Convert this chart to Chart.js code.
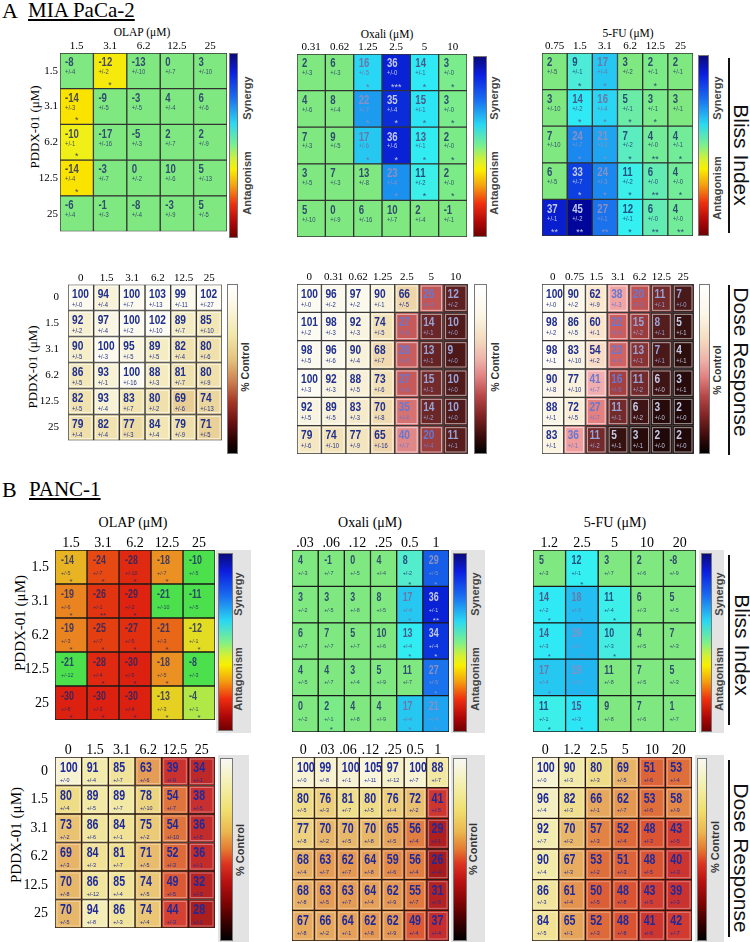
<!DOCTYPE html>
<html><head><meta charset="utf-8">
<script src="https://cdn.jsdelivr.net/npm/chart.js@4.4.1/dist/chart.umd.min.js"></script>
<style>
html,body{margin:0;padding:0;background:#fff;}
body{width:750px;height:942px;position:relative;overflow:hidden;}
.t{position:absolute;white-space:nowrap;line-height:1;color:#000;}
.serif{font-family:"Liberation Serif","Times New Roman",serif;}
.sans{font-family:"Liberation Sans",Arial,sans-serif;}
.c{transform:translate(-50%,-50%);}
.rl{transform:translate(-50%,-50%) rotate(-90deg);}
.rr{transform:translate(-50%,-50%) rotate(90deg);}
.cb{position:absolute;border:1px solid #777;box-sizing:border-box;}
.gp{position:absolute;background:#e3e3e3;}
.vl{position:absolute;width:2px;background:#111;}
canvas{position:absolute;}
</style></head><body>
<script>
// ---------------- DATA ----------------
const pddxBliss = ['1.5','3.1','6.2','12.5','25'];
const pddxDose  = ['0','1.5','3.1','6.2','12.5','25'];

// A  MIA PaCa-2 : Bliss index
const olapBlissA = ['1.5','3.1','6.2','12.5','25'];
const blissOlapA = [[-8,-12,-13,0,3],[-14,-9,-3,4,6],[-10,-17,-5,2,2],[-14,-3,0,10,5],[-6,-1,-8,-3,5]];
const blissOlapAErr = [[4,2,10,7,10],[3,5,5,4,6],[1,16,3,7,9],[4,7,2,6,13],[4,3,4,9,5]];
const blissOlapASig = [['','*','','',''],['*','','','',''],['*','','','',''],['*','','','',''],['','','','','']];

const oxaliBlissA = ['0.31','0.62','1.25','2.5','5','10'];
const blissOxaliA = [[2,6,16,36,14,3],[4,8,22,35,15,3],[7,9,17,36,13,2],[3,7,13,23,11,2],[5,0,6,10,2,-1]];
const blissOxaliAErr = [[3,3,5,0,1,0],[6,4,7,4,1,0],[3,5,6,6,1,0],[5,3,8,4,2,0],[10,9,16,7,4,1]];
const blissOxaliASig = [['','','*','***','*','*'],['','','*','*','*','*'],['','','*','*','*','*'],['','','','*','*','*'],['','','','','','']];

const fuBlissA = ['0.75','1.5','3.1','6.2','12.5','25'];
const bliss5fuA = [[2,9,17,3,2,2],[3,14,16,5,3,3],[7,24,21,7,4,4],[6,33,24,11,6,4],[37,45,27,12,6,4]];
const bliss5fuAErr = [[5,1,4,2,1,1],[10,2,4,1,1,1],[10,7,3,2,0,1],[5,7,3,2,0,0],[1,2,1,1,0,0]];
const bliss5fuASig = [['','*','*','','*',''],['','*','*','*','*',''],['','*','*','*','**','*'],['','*','*','*','**','*'],['**','**','**','*','**','**']];

// A : Dose response (% control)
const olapDoseA = ['0','1.5','3.1','6.2','12.5','25'];
const doseOlapA = [[100,94,100,103,99,102],[92,97,100,102,89,85],[90,100,95,89,82,80],[86,93,100,88,81,80],[82,93,83,80,69,74],[79,82,77,84,79,71]];
const doseOlapAErr = [[0,4,7,13,11,27],[2,4,2,10,7,10],[5,3,5,5,4,6],[5,1,16,3,7,9],[5,4,7,2,6,13],[4,4,3,4,9,5]];

const oxaliDoseA = ['0','0.31','0.62','1.25','2.5','5','10'];
const doseOxaliA = [[100,96,97,90,66,26,12],[101,98,92,74,27,14,10],[98,96,90,68,28,13,9],[100,92,88,73,27,15,10],[92,89,83,70,35,14,10],[79,74,77,65,40,20,11]];
const doseOxaliAErr = [[0,2,2,1,5,4,2],[2,3,3,5,6,1,0],[5,6,4,7,6,1,0],[3,3,5,6,6,1,0],[5,5,3,8,4,2,0],[6,10,9,16,7,4,1]];

const fuDoseA = ['0','0.75','1.5','3.1','6.2','12.5','25'];
const dose5fuA = [[100,90,62,38,20,11,7],[98,86,60,22,15,8,5],[98,83,54,23,13,7,4],[90,77,41,16,11,6,3],[88,72,27,11,6,3,2],[83,36,11,5,3,2,2]];
const dose5fuAErr = [[0,2,9,3,3,1,0],[2,5,1,4,2,1,1],[1,10,2,4,1,1,1],[8,10,7,5,2,0,1],[1,5,7,1,2,0,0],[1,1,2,1,1,0,0]];

// B  PANC-1 : Bliss index
const olapBlissB = ['1.5','3.1','6.2','12.5','25'];
const blissOlapB = [[-14,-24,-28,-18,-10],[-19,-26,-29,-21,-11],[-19,-25,-27,-21,-12],[-21,-28,-30,-18,-8],[-30,-30,-30,-13,-4]];
const blissOlapBErr = [[5,7,10,7,5],[6,1,2,10,5],[3,7,5,3,1],[12,4,5,5,3],[8,3,4,3,1]];
const blissOlapBSig = [['*','*','*','*',''],['*','**','*','',''],['*','*','*','*','*'],['','*','*','*',''],['*','*','*','*','*']];

const oxaliBlissB = ['.03','.06','.12','.25','0.5','1'];
const blissOxaliB = [[4,-1,0,4,8,29],[3,3,3,8,17,36],[6,7,5,10,13,34],[4,4,3,5,11,27],[0,2,4,4,17,21]];
const blissOxaliBErr = [[3,7,5,4,2,5],[2,5,8,5,4,1],[7,7,7,6,4,4],[5,7,4,9,7,5],[2,1,8,9,4,4]];
const blissOxaliBSig = [['','','','','*','*'],['','','','','*','**'],['','','','','*','*'],['','','','','','*'],['','*','','','*','*']];

const fuBlissB = ['1.2','2.5','5','10','20'];
const bliss5fuB = [[5,12,3,2,-8],[14,18,11,6,5],[14,19,10,4,7],[17,19,11,7,5],[11,15,9,7,1]];
const bliss5fuBErr = [[3,1,7,6,9],[2,3,4,3,5],[3,2,3,5,3],[4,5,8,5,3],[1,3,8,6,7]];
const bliss5fuBSig = [['','*','','',''],['*','*','*','',''],['*','*','*','',''],['*','*','','',''],['*','*','','','']];

// B : Dose response (% control)
const olapDoseB = ['0','1.5','3.1','6.2','12.5','25'];
const doseOlapB = [[100,91,85,63,39,34],[80,89,89,78,54,38],[73,86,84,75,54,36],[69,84,81,71,52,36],[70,86,85,74,49,32],[70,94,86,74,44,28]];
const doseOlapBErr = [[0,4,7,6,9,1],[4,5,7,10,7,5],[2,6,1,2,10,5],[3,3,7,5,3,1],[8,12,4,5,5,3],[5,8,3,4,3,1]];

const oxaliDoseB = ['0','.03','.06','.12','.25','0.5','1'];
const doseOxaliB = [[100,99,100,105,97,100,88],[80,76,81,80,76,72,41],[77,70,70,70,65,56,29],[68,63,62,64,59,56,26],[68,63,63,64,62,55,31],[67,66,64,62,62,49,37]];
const doseOxaliBErr = [[0,8,1,11,12,7,7],[5,3,7,5,4,2,5],[8,2,5,8,5,4,1],[4,7,7,8,6,4,4],[8,5,7,4,9,7,5],[8,2,1,8,9,4,4]];

const fuDoseB = ['0','1.2','2.5','5','10','20'];
const dose5fuB = [[100,90,80,69,51,53],[96,82,66,62,53,58],[92,70,57,52,48,43],[90,67,53,51,48,40],[86,61,50,48,43,39],[84,65,52,48,41,42]];
const dose5fuBErr = [[0,3,3,5,6,4],[4,3,1,7,6,9],[7,2,3,4,3,5],[4,3,2,3,5,3],[3,4,5,8,5,3],[5,1,3,8,6,7]];

// ---------------- COLOUR MAPS ----------------
const posStops = [[0,'#7ee87e'],[3,'#7aec8c'],[6,'#62ecb4'],[9,'#4cecd8'],[12,'#34f0f0'],[15,'#2ce6f6'],[17,'#26c8f2'],[21,'#1ea4f0'],[24,'#1a88ee'],[27,'#1a72ec'],[30,'#1454e6'],[33,'#0c40e0'],[36,'#0a22d6'],[40,'#0614b8'],[45,'#00069a']];
const blissStopsA = [[-32,'#d81e10'],[-28,'#e02a10'],[-24,'#e84a10'],[-19,'#ec8420'],[-16,'#f4c010'],[-14,'#fbe300'],[-10,'#f0f018'],[-4,'#b4ec48']].concat(posStops);
const blissStopsB = [[-32,'#d81c10'],[-29,'#de2410'],[-26,'#e23410'],[-24,'#e64a12'],[-21,'#e86818'],[-19,'#ea8420'],[-18,'#eb9022'],[-14,'#e8b424'],[-13,'#e6d022'],[-12,'#e2dc22'],[-8,'#c8e838'],[-4,'#b0e848']].concat(posStops);
const doseStopsA1 = [[65,'#e4c68a'],[70,'#e9cf96'],[75,'#ecd8a0'],[80,'#f0e1ac'],[85,'#f2e7b6'],[90,'#f5eec8'],[95,'#f9f4dc'],[100,'#fcfaee'],[105,'#fefdf6']];
const doseStopsA2 = [[9,'#4c1818'],[12,'#5e2020'],[15,'#722a2a'],[20,'#9c3e3e'],[27,'#c65a5a'],[35,'#d67272'],[40,'#e08888'],[50,'#e8b098'],[60,'#eccca8'],[66,'#efd6aa'],[74,'#f2e2b8'],[80,'#f4e8c4'],[88,'#f7f0d6'],[95,'#faf7e8'],[100,'#fcfbf2']];
const doseStopsA3 = [[2,'#200808'],[4,'#2c0e0c'],[6,'#3e1414'],[8,'#541e1e'],[11,'#722a2a'],[13,'#883232'],[16,'#a44040'],[20,'#c05252'],[23,'#d06262'],[27,'#e48080'],[37,'#f0a0a0'],[41,'#f2aeae'],[54,'#f8dcc4'],[62,'#fbe8cc'],[75,'#f9f0d8'],[88,'#faf5e4'],[100,'#fdfcf6']];
const doseStopsB = [[25,'#a41a1a'],[30,'#b02020'],[35,'#c02a2a'],[40,'#cc3430'],[45,'#d64432'],[50,'#dc5e36'],[55,'#e07a3e'],[60,'#e4904c'],[65,'#e6a45a'],[70,'#e8b86a'],[75,'#ebca78'],[80,'#efdc86'],[85,'#f1e49a'],[90,'#f2eaa8'],[95,'#f4eebc'],[100,'#f6f2d2'],[106,'#f8f5dc']];

function hexRgb(h){return [parseInt(h.slice(1,3),16),parseInt(h.slice(3,5),16),parseInt(h.slice(5,7),16)];}
function ramp(stops,v){
  if(v<=stops[0][0]) return hexRgb(stops[0][1]);
  for(let k=1;k<stops.length;k++){
    if(v<=stops[k][0]){
      const t=(v-stops[k-1][0])/(stops[k][0]-stops[k-1][0]);
      const a=hexRgb(stops[k-1][1]), b=hexRgb(stops[k][1]);
      return a.map((x,q)=>Math.round(x+(b[q]-x)*t));
    }
  }
  return hexRgb(stops[stops.length-1][1]);
}
const rgbStr=a=>`rgb(${a[0]},${a[1]},${a[2]})`;

function blissText(v,sig){
  if(sig&&v>=30) return '#c4c9ea';
  if(sig&&v>=19) return '#8890c4';
  if(sig&&v>=16) return '#6a78a8';
  if(sig&&v>=13) return '#4a5a88';
  return 'rgba(28,38,105,0.8)';
}
function doseAText(rgb){
  const l=(0.299*rgb[0]+0.587*rgb[1]+0.114*rgb[2])/255;
  if(l>0.78) return '#1f2f8f';
  if(l>0.35) return '#6878d0';
  if(l>0.15) return '#98a4d8';
  return '#c4cae8';
}

// ---------------- PAGE HELPERS ----------------
function txt(s,x,y,cls,style){const d=document.createElement('div');d.className='t '+cls;d.textContent=s;d.style.left=x+'px';d.style.top=y+'px';Object.assign(d.style,style||{});document.body.appendChild(d);return d;}
function box(cls,x,y,w,h,bg){const d=document.createElement('div');d.className=cls;Object.assign(d.style,{left:x+'px',top:y+'px',width:w+'px',height:h+'px',background:bg});document.body.appendChild(d);return d;}

const STY = {
  blissA:{tick:11,T:14,L:30,rowPad:2,tickPad:1,num:12,numSc:0.8,err:6.5,padX:5,numDY:10,errDY:19.5,starDY:4,star:9},
  doseA:{tick:11,T:14,L:42,rowPad:9,tickPad:1,num:13,numSc:0.78,err:6.5,padX:4,numDY:10,errDY:21,inner:0.6},
  blissB:{tick:14,T:16,L:40,rowPad:6,tickPad:0,num:12,numSc:0.74,err:6,padX:6,numDY:11,errDY:23.5,starDY:3,star:8},
  doseB:{tick:14,T:16,L:40,rowPad:7,tickPad:0,num:14,numSc:0.76,err:6,padX:5,numDY:11,errDY:23,inner:0.35}
};

function heat(p){
  const s=STY[p.style];
  const [gx,gy,gw,gh]=p.box;
  const L=p.rowsShown?s.L:0, T=s.T;
  const cv=document.createElement('canvas');
  const W=gw+L+1, H=gh+T+1;
  cv.width=W;cv.height=H;cv.style.width=W+'px';cv.style.height=H+'px';
  cv.style.left=(gx-L)+'px';cv.style.top=(gy-T)+'px';
  document.body.appendChild(cv);
  const isBliss=p.style.startsWith('bliss');
  const cellRgb=(i,j)=>{const v=p.vals[i][j];if(isBliss&&!p.sig[i][j])return hexRgb(p.ns);return ramp(p.stops,v);};
  const datasets=p.cols.map((c,j)=>({
    label:c,
    data:p.rows.map(()=>1),
    backgroundColor:p.rows.map((r,i)=>rgbStr(cellRgb(i,j))),
    borderColor:p.border||'#2a2a2a',borderWidth:1,borderSkipped:false,
    barPercentage:1,categoryPercentage:1
  }));
  const textPlugin={id:'cellText',afterDatasetsDraw(chart){
    const ctx=chart.ctx;
    p.cols.forEach((c,j)=>{
      chart.getDatasetMeta(j).data.forEach((el,i)=>{
        const left=Math.min(el.base,el.x), right=Math.max(el.base,el.x);
        const top=el.y-el.height/2, h=el.height, w=right-left;
        const rgb=cellRgb(i,j), v=p.vals[i][j];
        const sig=isBliss?p.sig[i][j]:'';
        if(s.inner){ctx.save();ctx.strokeStyle=`rgba(255,255,255,${s.inner})`;ctx.lineWidth=1;ctx.strokeRect(left+2,top+2,w-4,h-4);ctx.restore();}
        let col;
        if(isBliss) col=blissText(v,sig); else if(p.style==='doseA') col=doseAText(rgb); else col='#1f2a9a';
        const draw=(str,x,y,font,sc)=>{ctx.save();ctx.translate(x,y);ctx.scale(sc,1);ctx.font=font;ctx.fillStyle=col;ctx.textAlign='left';ctx.textBaseline='middle';ctx.fillText(str,0,0);ctx.restore();};
        draw(String(v),left+s.padX,top+s.numDY,`bold ${s.num}px "Liberation Sans", Arial, sans-serif`,s.numSc);
        draw('+/-'+p.errs[i][j],left+s.padX,top+s.errDY,`${s.err}px "Liberation Sans", Arial, sans-serif`,0.9);
        if(sig){ctx.save();ctx.font=`${s.star}px "Liberation Sans", Arial, sans-serif`;ctx.fillStyle=col;ctx.textAlign='center';ctx.textBaseline='bottom';ctx.fillText(sig,left+w/2,top+h-s.starDY+5);ctx.restore();}
      });
    });
  }};
  new Chart(cv,{
    type:'bar',
    data:{labels:p.rows,datasets},
    options:{
      indexAxis:'y',responsive:false,animation:false,devicePixelRatio:1,
      layout:{padding:{left:0,top:0,right:1,bottom:1}},
      plugins:{legend:{display:false},tooltip:{enabled:false}},
      scales:{
        x:{type:'linear',stacked:true,min:0,max:p.cols.length,display:false},
        xt:{type:'category',labels:p.cols,position:'top',offset:true,
            grid:{display:false,drawTicks:false},border:{display:false},
            ticks:{font:{family:'"Liberation Serif","Times New Roman",serif',size:s.tick,lineHeight:1},color:'#000',padding:s.tickPad,autoSkip:false,maxRotation:0,minRotation:0},
            afterFit(sc){sc.height=T;}},
        y:{type:'category',stacked:true,display:!!p.rowsShown,position:'left',offset:true,
           grid:{display:false,drawTicks:false},border:{display:false},
           ticks:{font:{family:'"Liberation Serif","Times New Roman",serif',size:s.tick,lineHeight:1},color:'#000',padding:s.rowPad,autoSkip:false},
           afterFit(sc){sc.width=L;}}
      }
    },
    plugins:[textPlugin]
  });
}

// ---------------- DECORATION ----------------
const gBliss='linear-gradient(to bottom,#0a0a7a 0%,#0c1ee0 10%,#1a6ef0 24%,#2ad8f2 38%,#7ef08a 50%,#d8f030 58%,#f8f000 63%,#f4a010 72%,#ee3010 82%,#b00808 92%,#700000 100%)';
const gDoseA1='linear-gradient(to bottom,#ffffff 0%,#faf6dc 15%,#f2e6a8 30%,#e4c07a 45%,#cc7c4c 58%,#a43424 70%,#6a1010 82%,#200000 94%,#000 100%)';
const gDoseA2='linear-gradient(to bottom,#ffffff 0%,#fbf6e6 18%,#f4dcc0 32%,#eeb0a8 45%,#e08080 55%,#b84848 66%,#802424 78%,#3c0c0c 90%,#000 100%)';
const gDoseB='linear-gradient(to bottom,#f8f8f4 0%,#f4f0b0 14%,#f0e070 28%,#ecb850 40%,#e47a30 50%,#dc3420 58%,#b81010 68%,#7c0404 80%,#300000 92%,#000 100%)';

// headings
txt('A',2,0,'serif',{fontSize:'22px'});
txt('MIA PaCa-2',28,0,'serif',{fontSize:'21px',textDecoration:'underline'});
txt('B',2,479,'serif',{fontSize:'22px'});
txt('PANC-1',29,479,'serif',{fontSize:'21px',textDecoration:'underline'});

// axis titles
txt('OLAP (\u03bcM)',142,33,'serif c',{fontSize:'11.5px'});
txt('Oxali (\u03bcM)',387,35,'serif c',{fontSize:'11.5px'});
txt('5-FU (\u03bcM)',628,34,'serif c',{fontSize:'11.5px'});
txt('OLAP (\u03bcM)',133,523,'serif c',{fontSize:'14px'});
txt('Oxali (\u03bcM)',370,523,'serif c',{fontSize:'14px'});
txt('5-FU (\u03bcM)',615,523,'serif c',{fontSize:'14px'});
txt('PDDX-01 (\u03bcM)',34,127,'serif rl',{fontSize:'13px'});
txt('PDDX-01 (\u03bcM)',32,367,'serif rl',{fontSize:'13px'});
txt('PDDX-01 (\u03bcM)',20,623,'serif rl',{fontSize:'15px'});
txt('PDDX-01 (\u03bcM)',16,835,'serif rl',{fontSize:'15px'});

// gray panels (B)
[[216,550,35,183],[451,550,34,183],[699,550,25,183],[218,755,31,187],[451,755,34,187],[695,755,29,187]].forEach(a=>box('gp',a[0],a[1],a[2],a[3],'#e3e3e3'));

// colour bars
[[229,53,9,185,gBliss],[473,56,14,181,gBliss],[698,55,11,181,gBliss],
 [227,284,11,170,gDoseA1],[474,284,13,170,gDoseA2],[699,284,11,170,gDoseA2],
 [218,553,15,178,gBliss],[453,553,14,179,gBliss],[701,553,11,179,gBliss],
 [220,758,13,183,gDoseB],[453,758,14,183,gDoseB],[697,758,10,183,gDoseB]].forEach(a=>box('cb',a[0],a[1],a[2],a[3],a[4]));

// colour-bar labels
const lab={fontSize:'11px',fontWeight:'bold',color:'#444'};
[[247,98,183],[494,98,183],[717,98,188]].forEach(a=>{txt('Synergy',a[0],a[1],'sans rl',lab);txt('Antagonism',a[0],a[2],'sans rl',lab);});
[[238,594,679],[475,594,679],[719,594,679]].forEach(a=>{txt('Synergy',a[0],a[1],'sans rl',lab);txt('Antagonism',a[0],a[2],'sans rl',lab);});
[[245,367],[495,367],[717,370]].forEach(a=>txt('% Control',a[0],a[1],'sans rl',{fontSize:'10.5px',fontWeight:'bold',color:'#333'}));
[[240,850],[473,849],[715,847]].forEach(a=>txt('% Control',a[0],a[1],'sans rl',{fontSize:'11px',fontWeight:'bold',color:'#333'}));

// right side captions
[[58,175],[285,170],[555,170],[760,177]].forEach(a=>box('vl',728,a[0],2,a[1],'#111'));
txt('Bliss Index',741,155,'sans rr',{fontSize:'21px',color:'#111'});
txt('Dose Response',741,362,'sans rr',{fontSize:'21px',color:'#111'});
txt('Bliss Index',742,645,'sans rr',{fontSize:'21px',color:'#111'});
txt('Dose Response',741,858,'sans rr',{fontSize:'21px',color:'#111'});

// ---------------- HEATMAPS ----------------
heat({style:'blissA',box:[60,53,167,185],rows:pddxBliss,rowsShown:true,cols:olapBlissA,vals:blissOlapA,errs:blissOlapAErr,sig:blissOlapASig,stops:blissStopsA,ns:'#80e880',border:'#333'});
heat({style:'blissA',box:[297,54,170,183],rows:pddxBliss,cols:oxaliBlissA,vals:blissOxaliA,errs:blissOxaliAErr,sig:blissOxaliASig,stops:blissStopsA,ns:'#80e880',border:'#333'});
heat({style:'blissA',box:[542,53,151,183],rows:pddxBliss,cols:fuBlissA,vals:bliss5fuA,errs:bliss5fuAErr,sig:bliss5fuASig,stops:blissStopsA,ns:'#80e880',border:'#333'});

heat({style:'doseA',box:[68,284,154,170],rows:pddxDose,rowsShown:true,cols:olapDoseA,vals:doseOlapA,errs:doseOlapAErr,stops:doseStopsA1,border:'#3a3a3a'});
heat({style:'doseA',box:[297,284,171,170],rows:pddxDose,cols:oxaliDoseA,vals:doseOxaliA,errs:doseOxaliAErr,stops:doseStopsA2,border:'#3a3a3a'});
heat({style:'doseA',box:[542,284,152,170],rows:pddxDose,cols:fuDoseA,vals:dose5fuA,errs:dose5fuAErr,stops:doseStopsA3,border:'#3a3a3a'});

heat({style:'blissB',box:[55,550,160,182],rows:pddxBliss,rowsShown:true,cols:olapBlissB,vals:blissOlapB,errs:blissOlapBErr,sig:blissOlapBSig,stops:blissStopsB,ns:'#4ce04c',border:'#1a1a1a'});
heat({style:'blissB',box:[292,550,157,182],rows:pddxBliss,cols:oxaliBlissB,vals:blissOxaliB,errs:blissOxaliBErr,sig:blissOxaliBSig,stops:blissStopsB,ns:'#80e880',border:'#1a1a1a'});
heat({style:'blissB',box:[533,550,163,182],rows:pddxBliss,cols:fuBlissB,vals:bliss5fuB,errs:bliss5fuBErr,sig:bliss5fuBSig,stops:blissStopsB,ns:'#80e880',border:'#1a1a1a'});

heat({style:'doseB',box:[55,757,160,184],rows:pddxDose,rowsShown:true,cols:olapDoseB,vals:doseOlapB,errs:doseOlapBErr,stops:doseStopsB,border:'#2a1a10'});
heat({style:'doseB',box:[292,757,157,184],rows:pddxDose,cols:oxaliDoseB,vals:doseOxaliB,errs:doseOxaliBErr,stops:doseStopsB,border:'#2a1a10'});
heat({style:'doseB',box:[532,757,160,184],rows:pddxDose,cols:fuDoseB,vals:dose5fuB,errs:dose5fuBErr,stops:doseStopsB,border:'#2a1a10'});
</script>
</body></html>
